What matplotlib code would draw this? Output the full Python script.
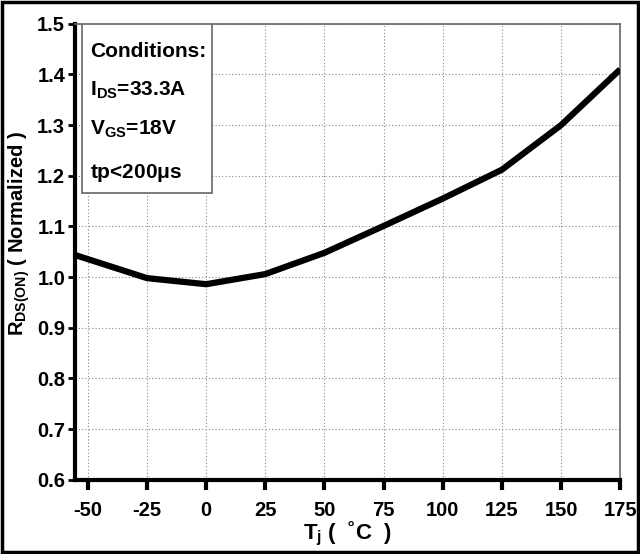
import matplotlib
matplotlib.use("Agg")
import matplotlib.pyplot as plt
from matplotlib.patches import Rectangle

plt.rcParams['font.family'] = ['Liberation Sans', 'DejaVu Sans']
plt.rcParams['font.weight'] = 'bold'

temps = [-55, -25, 0, 25, 50, 75, 100, 125, 150, 175]
rds = [1.043, 0.998, 0.986, 1.006, 1.048, 1.101, 1.155, 1.212, 1.300, 1.410]
xticks = [-50, -25, 0, 25, 50, 75, 100, 125, 150, 175]
yticks = [0.6, 0.7, 0.8, 0.9, 1.0, 1.1, 1.2, 1.3, 1.4, 1.5]

fig = plt.figure(figsize=(6.4, 5.54), dpi=100)
ax = fig.add_axes([0.117, 0.134, 0.852, 0.823])

ax.plot(temps, rds, color='black', lw=4.5, solid_capstyle='butt', zorder=3)
ax.set_xlim(-55.5, 175)
ax.set_ylim(0.6, 1.5)
ax.set_xticks(xticks)
ax.set_yticks(yticks)
ax.set_xticklabels([str(t) for t in xticks])
ax.set_yticklabels([f"{v:.1f}" for v in yticks])
ax.grid(True, color='#888888', ls=(0, (1, 2)), lw=0.8)
ax.tick_params(axis='both', labelsize=14.5, direction='out')
ax.tick_params(axis='x', length=7, width=3, pad=8)
ax.tick_params(axis='y', length=5, width=2, pad=2)
for lab in ax.get_xticklabels() + ax.get_yticklabels():
    lab.set_fontweight('bold')

for s in ['left', 'bottom']:
    ax.spines[s].set_linewidth(3)
    ax.spines[s].set_color('black')
for s in ['top', 'right']:
    ax.spines[s].set_linewidth(1.2)
    ax.spines[s].set_color('#666666')

ax.set_xlabel('T$_\\mathregular{j}$ (  \u02daC  )', fontsize=16, fontweight='bold', labelpad=0)
ax.set_ylabel(r'R$_\mathregular{DS(ON)}$ ( Normalized )', fontsize=14.5, fontweight='bold')
ax.yaxis.set_label_coords(-0.078, 0.54)

box = Rectangle((0.013, 0.629), 0.238, 0.371, transform=ax.transAxes,
                facecolor='white', edgecolor='#666666', lw=1.2, zorder=4)
ax.add_patch(box)
lines = ['Conditions:', r'I$_\mathregular{DS}$=33.3A', r'V$_\mathregular{GS}$=18V', r'tp<200$\mathregular{\mu}$s']
ys = [0.939, 0.855, 0.768, 0.673]
for t, y in zip(lines, ys):
    ax.text(0.028, y, t, transform=ax.transAxes, fontsize=15, fontweight='bold',
            va='center', ha='left', zorder=5)

fig.add_artist(Rectangle((0.003, 0.003), 0.994, 0.994, transform=fig.transFigure,
                         fill=False, edgecolor='black', lw=2.5))

fig.savefig('out.png', dpi=100)
